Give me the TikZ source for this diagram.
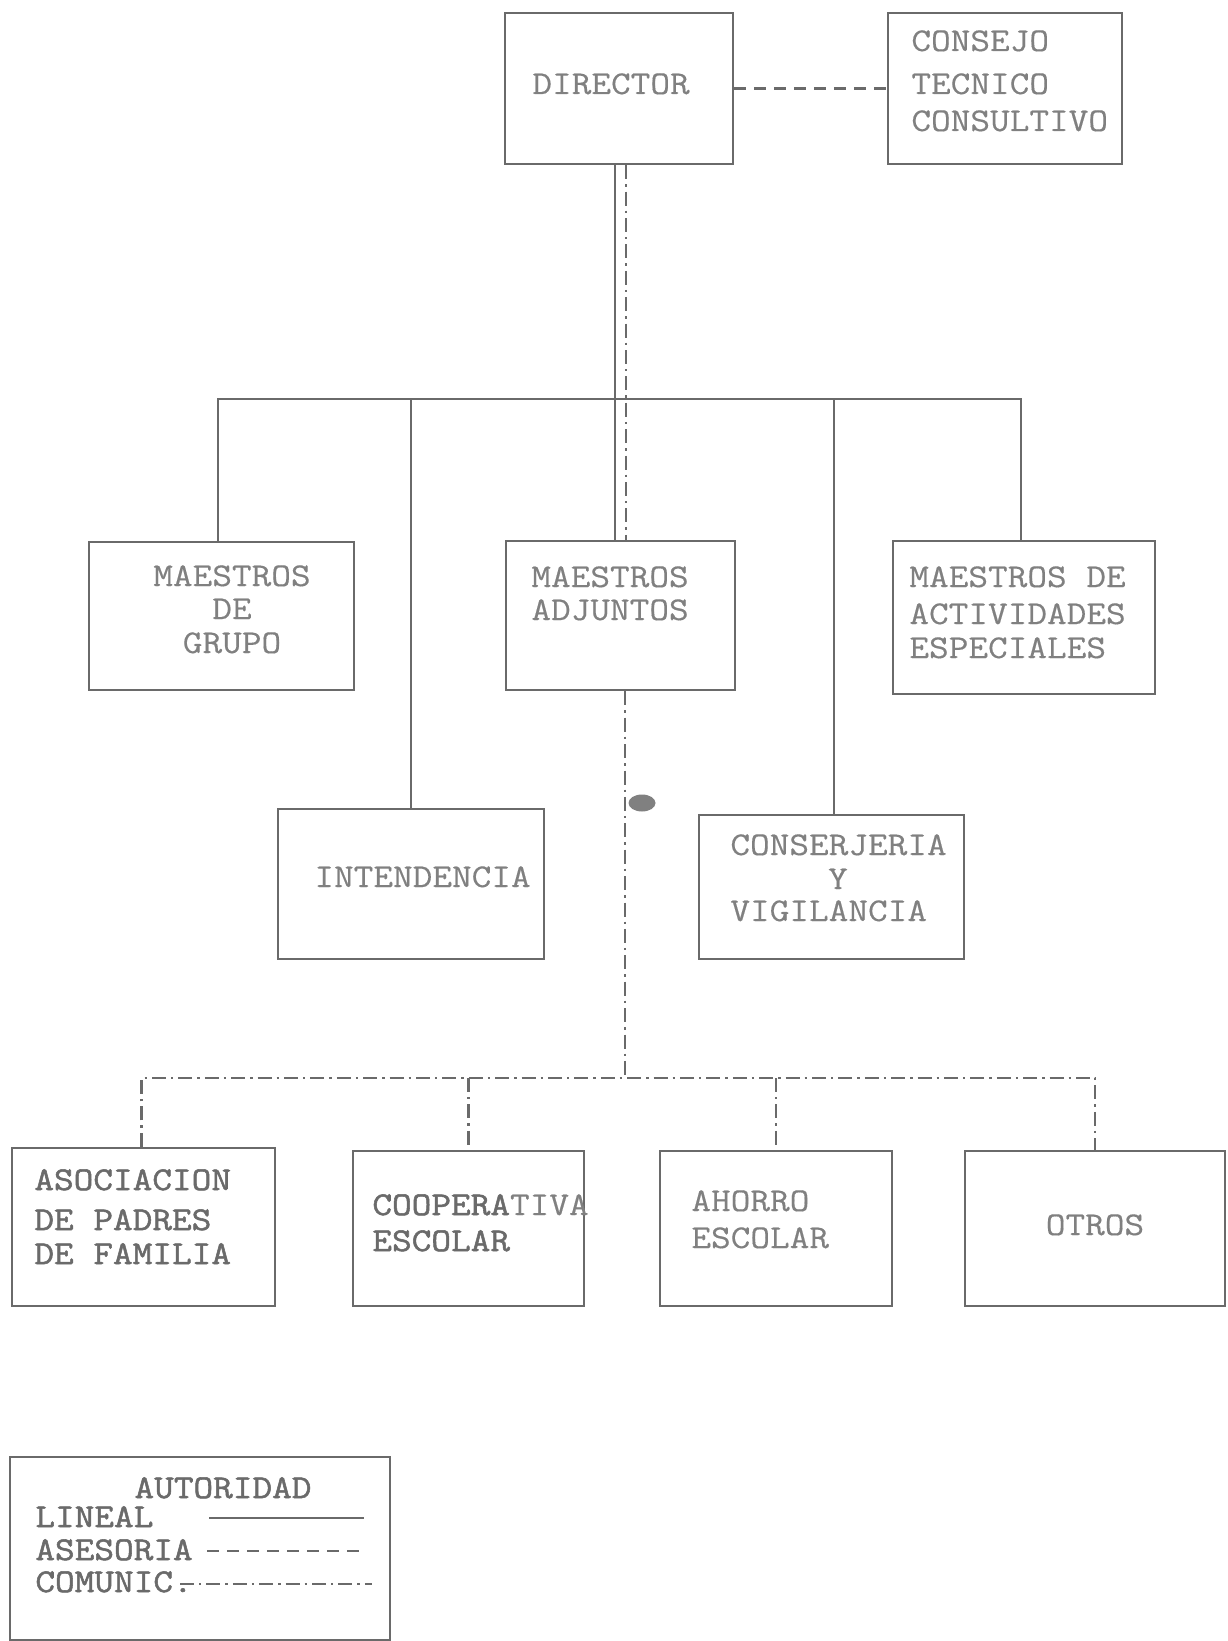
\documentclass[tikz,border=0pt]{standalone}
\usepackage{fontspec}
\newfontfamily\tw{Latin Modern Mono}[FakeStretch=1.15, FakeBold=0.4]
\newfontfamily\twb{Latin Modern Mono}[FakeStretch=1.15, FakeBold=1.6]
\definecolor{ink}{HTML}{6A6A6A}
\definecolor{txt}{HTML}{808080}
\definecolor{txtd}{HTML}{6A6A6A}
\tikzset{
  box/.style={draw=ink, line width=1.3pt, inner sep=0pt},
  lbl/.style={inner sep=0pt, anchor=base west, text=txt, font=\fontsize{16.6}{18}\tw},
  lblc/.style={lbl, anchor=base},
  lbld/.style={lbl, text=txtd, font=\fontsize{16.6}{18}\twb},
  lin/.style={draw=ink, line width=1pt},
  ases/.style={draw=ink, line width=1.1pt, dash pattern=on 6pt off 4pt},
  comu/.style={draw=ink, line width=1.1pt, dash pattern=on 7pt off 2.5pt on 1.2pt off 2.5pt},
}
\begin{document}
\begin{tikzpicture}[x=0.5pt, y=-0.5pt]
\fill[white] (0,0) rectangle (1227,1641);
\useasboundingbox (0,0) rectangle (1227,1641);

% boxes
\node[box, minimum width=114pt, minimum height=75.5pt] (director) at (619,88.5) {};
\node[box, minimum width=117pt, minimum height=75.5pt] (consejo) at (1005,88.5) {};
\node[box, minimum width=132.5pt, minimum height=74pt] (grupo) at (221.5,616) {};
\node[box, minimum width=114.5pt, minimum height=74.5pt] (adjuntos) at (620.5,615.5) {};
\node[box, minimum width=131pt, minimum height=76.5pt] (activ) at (1024,617.5) {};
\node[box, minimum width=133pt, minimum height=75pt] (intend) at (411,884) {};
\node[box, minimum width=132.5pt, minimum height=72pt] (conserj) at (831.5,887) {};
\node[box, minimum width=131.5pt, minimum height=79pt] (asoc) at (143.5,1227) {};
\node[box, minimum width=115.5pt, minimum height=77.5pt] (coop) at (468.5,1228.5) {};
\node[box, minimum width=116pt, minimum height=77.5pt] (ahorro) at (776,1228.5) {};
\node[box, minimum width=130pt, minimum height=77.5pt] (otros) at (1095,1228.5) {};
\node[box, minimum width=190pt, minimum height=91.5pt] (legend) at (200,1548.5) {};

% texts
\node[lbl] (tdir) at (532,94) {DIRECTOR};
\node[lbl] (tcon1) at (911,51) {CONSEJO};
\node[lbl] (tcon2) at (911,94) {TECNICO};
\node[lbl] (tcon3) at (911,131) {CONSULTIVO};
\node[lblc] (tgr1) at (232,586) {MAESTROS};
\node[lblc] (tgr2) at (232,619) {DE};
\node[lblc] (tgr3) at (232,653) {GRUPO};
\node[lbl] (tad1) at (531,587) {MAESTROS};
\node[lbl] (tad2) at (531,620) {ADJUNTOS};
\node[lbl] (tac1) at (909,587) {MAESTROS DE};
\node[lbl] (tac2) at (909,624) {ACTIVIDADES};
\node[lbl] (tac3) at (909,658) {ESPECIALES};
\node[lbl] (tint) at (314,887) {INTENDENCIA};
\node[lbl] (tcs1) at (730,855) {CONSERJERIA};
\node[lblc] (tcs2) at (838,889) {Y};
\node[lbl] (tcs3) at (730,921) {VIGILANCIA};
\node[lbld] (tas1) at (34,1190) {ASOCIACION};
\node[lbld] (tas2) at (34,1230) {DE PADRES};
\node[lbld] (tas3) at (34,1264) {DE FAMILIA};
\node[lbl] (tco1) at (372,1215) {{\twb\color{txtd}COOPERA}TIVA};
\node[lbld] (tco2) at (372,1251) {ESCOLAR};
\node[lbl] (tah1) at (691,1211) {AHORRO};
\node[lbl] (tah2) at (691,1248) {ESCOLAR};
\node[lblc] (tot) at (1095,1235) {OTROS};
\node[lbld, anchor=base] (tleg0) at (223,1498) {AUTORIDAD};
\node[lbld] (tleg1) at (35,1527) {LINEAL};
\node[lbld] (tleg2) at (35,1560) {ASESORIA};
\node[lbld] (tleg3) at (35,1592) {COMUNIC.};

% blot
\fill[ink!85] (642,803) ellipse [x radius=6.75pt, y radius=4.25pt];

% connectors
\coordinate (bar) at (0,399);
\coordinate (cbar) at (0,1078);
\draw[ases] (director.east) -- (director.east -| consejo.west);
\draw[lin] ([xshift=-2pt]director.south) -- ([xshift=-2pt]director.south |- adjuntos.north);
\draw[comu] ([xshift=3.5pt]director.south) -- ([xshift=3.5pt]director.south |- adjuntos.north);
\draw[lin] ([xshift=-2pt]grupo.north) |- ([xshift=-1.5pt]activ.north |- bar) -- ([xshift=-1.5pt]activ.north);
\draw[lin] (intend.north) -- (intend.north |- bar);
\draw[lin] ([xshift=1pt]conserj.north) -- ([xshift=1pt]conserj.north |- bar);
\draw[comu] ([xshift=2.25pt]adjuntos.south) -- ([xshift=2.25pt]adjuntos.south |- cbar);
\draw[comu] ([xshift=-1pt]asoc.north) |- (otros.north |- cbar) -- (otros.north);
\draw[comu] (coop.north |- cbar) -- (coop.north);
\draw[comu] (ahorro.north |- cbar) -- (ahorro.north);

% legend samples
\coordinate (l1a) at (209,1518);
\coordinate (l1b) at (364,1518);
\coordinate (l2a) at (207,1551);
\coordinate (l2b) at (362,1551);
\coordinate (l3a) at (180,1584);
\coordinate (l3b) at (372,1584);
\draw[lin] (l1a) -- (l1b);
\draw[ases] (l2a) -- (l2b);
\draw[comu] (l3a) -- (l3b);
\end{tikzpicture}
\end{document}
